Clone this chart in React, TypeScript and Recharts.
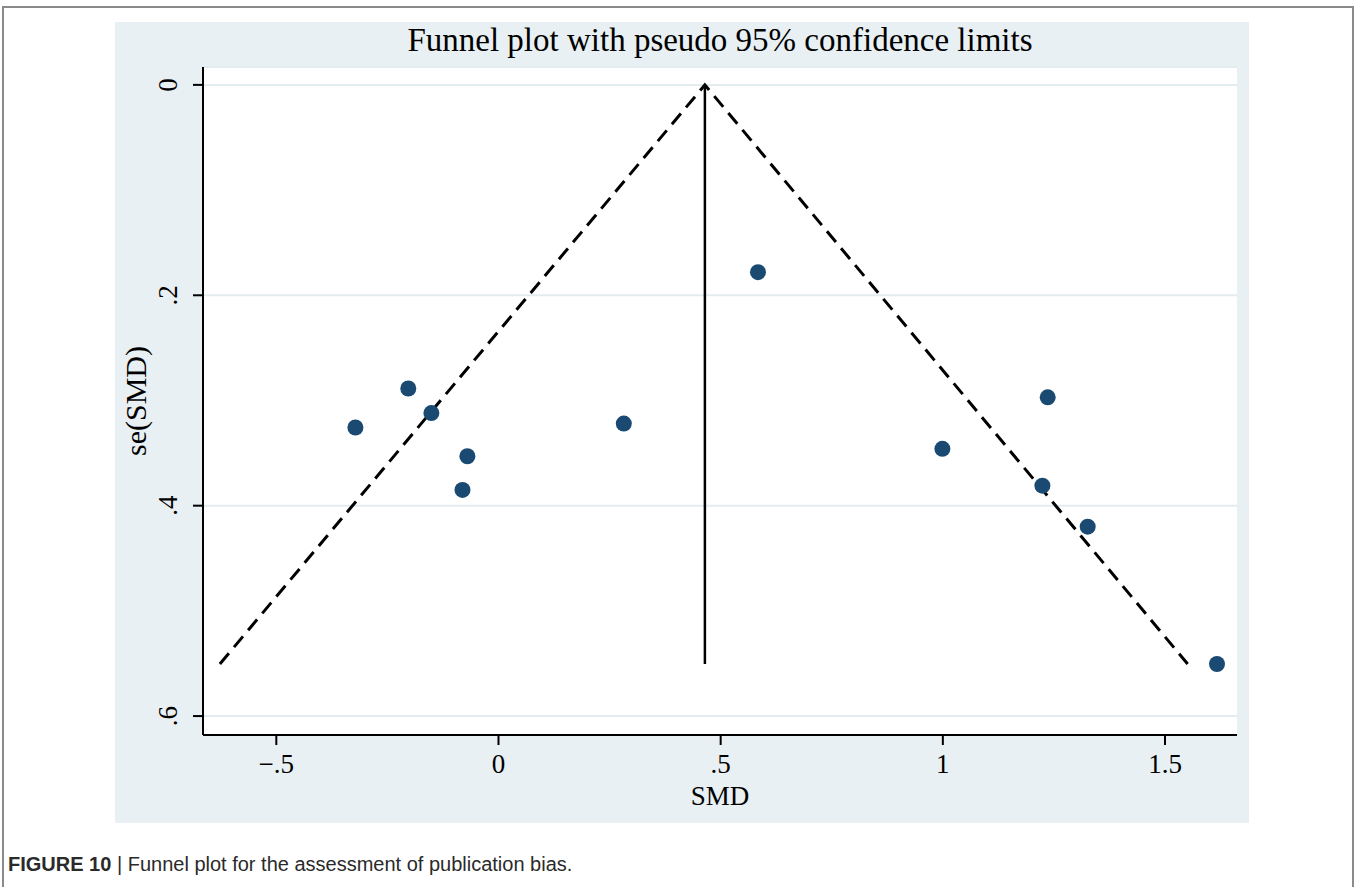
import React from 'react';
import { ScatterChart, Scatter, XAxis, YAxis, CartesianGrid } from 'recharts';

// study estimates: SMD vs standard error
const smd = [-0.322, -0.203, -0.151, -0.07, -0.081, 0.282, 0.584, 0.999, 1.236, 1.224, 1.326, 1.617];
const seSmd = [0.3257, 0.2886, 0.312, 0.353, 0.385, 0.322, 0.178, 0.346, 0.297, 0.381, 0.42, 0.5505];

// pseudo 95% limits (left end, apex, right end) and pooled estimate line
const limitX = [-0.627, 0.4645, 1.551];
const limitY = [0.5505, 0, 0.5505];
const pooledX = [0.4645, 0.4645];
const pooledY = [0, 0.5505];

const xTicks = [-0.5, 0, 0.5, 1, 1.5];
const yTicks = [0, 0.2, 0.4, 0.6];

const studies = smd.map((x, i) => ({ x, y: seSmd[i] }));
const limits = limitX.map((x, i) => ({ x, y: limitY[i] }));
const pooled = pooledX.map((x, i) => ({ x, y: pooledY[i] }));

const serif = '"Liberation Serif", "DejaVu Serif", serif';

const fmt = (v: number) => {
  if (v === 0) return '0';
  const s = Math.abs(v) < 1 ? String(Math.abs(v)).replace(/^0/, '') : String(Math.abs(v));
  return (v < 0 ? '\u2212' : '') + s;
};

const YTick = (props: any) => {
  const { x, y, payload } = props;
  const cx = x - 14;
  return (
    <text
      x={cx}
      y={y}
      transform={`rotate(-90 ${cx} ${y})`}
      textAnchor="middle"
      fontFamily={serif}
      fontSize={27}
      fill="#000"
    >
      {fmt(payload.value)}
    </text>
  );
};

const XTick = (props: any) => {
  const { x, y, payload } = props;
  return (
    <text x={x} y={y + 26} textAnchor="middle" fontFamily={serif} fontSize={27} fill="#000">
      {fmt(payload.value)}
    </text>
  );
};

const noDot = () => null;

export default function App() {
  return (
    <div style={{ position: 'absolute', left: 0, top: 0, width: 1357, height: 887, background: '#fff' }}>
      <div
        style={{
          position: 'absolute',
          left: 2,
          top: 6,
          width: 1352,
          height: 890,
          border: '2px solid #8a8a8a',
          boxSizing: 'border-box',
        }}
      />
      <div style={{ position: 'absolute', left: 115, top: 22, width: 1134, height: 801, background: '#e8f0f3' }}>
        <div
          style={{
            position: 'absolute',
            left: 88,
            top: 0,
            width: 1034,
            textAlign: 'center',
            fontFamily: serif,
            fontSize: 33,
            color: '#000',
          }}
        >
          Funnel plot with pseudo 95% confidence limits
        </div>
        <ScatterChart width={1134} height={801} margin={{ top: 45, right: 12, left: 8, bottom: 8 }}>
          <CartesianGrid fill="#fff" vertical={false} stroke="#e3ecef" strokeWidth={2} />
          <XAxis
            type="number"
            dataKey="x"
            domain={[-0.665, 1.662]}
            ticks={xTicks}
            allowDataOverflow
            height={80}
            tick={<XTick />}
            tickSize={10}
            axisLine={{ stroke: '#000', strokeWidth: 2 }}
            tickLine={{ stroke: '#000', strokeWidth: 2 }}
            label={{ value: 'SMD', position: 'insideBottom', offset: 10, fontFamily: serif, fontSize: 27, fill: '#000' }}
          />
          <YAxis
            type="number"
            dataKey="y"
            reversed
            domain={[-0.017, 0.618]}
            ticks={yTicks}
            allowDataOverflow
            width={80}
            tick={<YTick />}
            tickSize={10}
            axisLine={{ stroke: '#000', strokeWidth: 2 }}
            tickLine={{ stroke: '#000', strokeWidth: 2 }}
            label={{
              value: 'se(SMD)',
              angle: -90,
              position: 'insideLeft',
              offset: 12,
              style: { textAnchor: 'middle' },
              fontFamily: serif,
              fontSize: 30,
              fill: '#000',
            }}
          />
          <Scatter
            data={limits}
            line={{ stroke: '#000', strokeWidth: 3, strokeDasharray: '14 8' }}
            shape={noDot}
            isAnimationActive={false}
          />
          <Scatter
            data={pooled}
            line={{ stroke: '#000', strokeWidth: 2.5 }}
            shape={noDot}
            isAnimationActive={false}
          />
          <Scatter
            data={studies}
            fill="#1a4a72"
            isAnimationActive={false}
            shape={(p: any) => <circle cx={p.cx} cy={p.cy} r={8} fill="#1a4a72" />}
          />
        </ScatterChart>
      </div>
      <div
        style={{
          position: 'absolute',
          left: 8,
          top: 853,
          fontFamily: '"Liberation Sans", Arial, sans-serif',
          fontSize: 20,
          color: '#2a2a2a',
        }}
      >
        <b>FIGURE 10</b> | Funnel plot for the assessment of publication bias.
      </div>
    </div>
  );
}
